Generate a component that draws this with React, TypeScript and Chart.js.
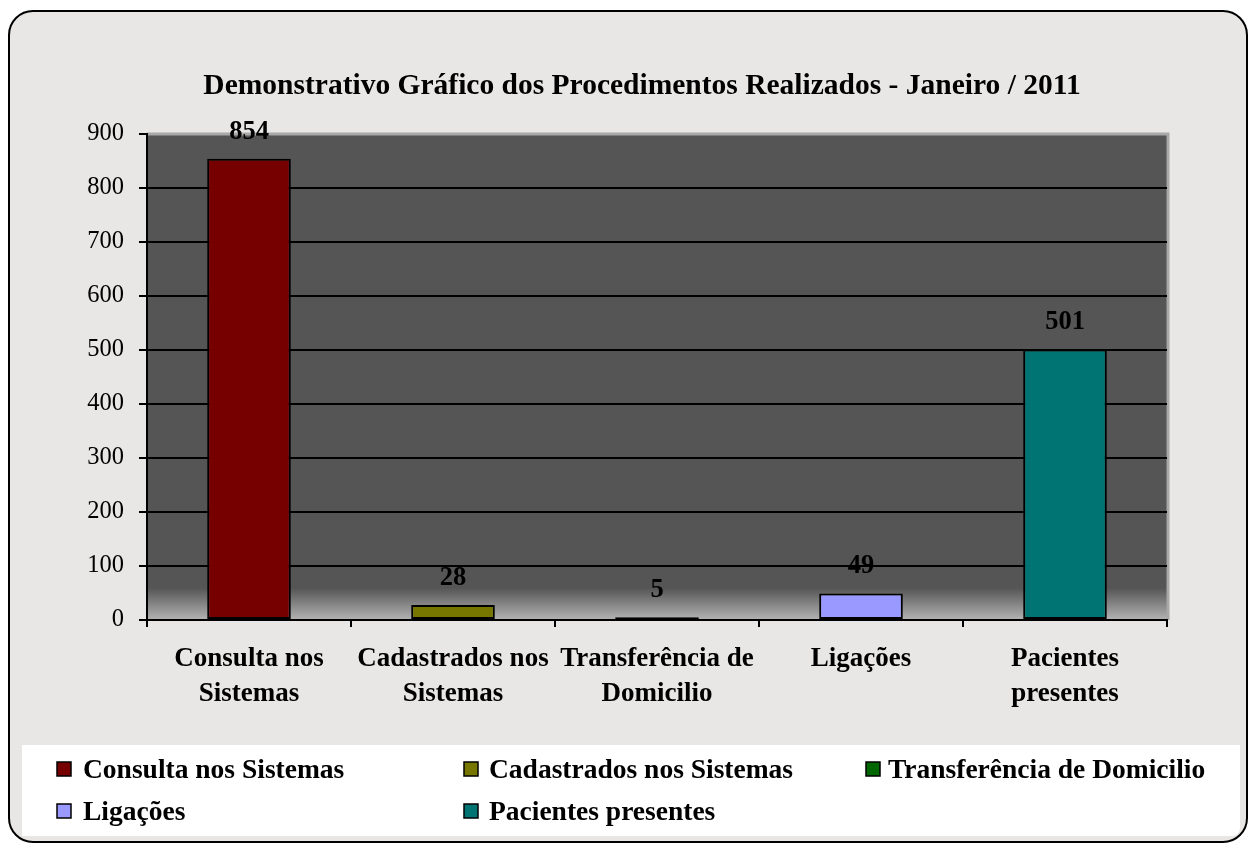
import React, { useEffect, useRef } from "react";
import { Chart, registerables } from "chart.js";

Chart.register(...registerables);

const chartTitle = "Demonstrativo Gráfico dos Procedimentos Realizados - Janeiro / 2011";
const categories: string[][] = [
  ["Consulta nos", "Sistemas"],
  ["Cadastrados nos", "Sistemas"],
  ["Transferência de", "Domicilio"],
  ["Ligações"],
  ["Pacientes", "presentes"],
];
const legendLabels = [
  "Consulta nos Sistemas",
  "Cadastrados nos Sistemas",
  "Transferência de Domicilio",
  "Ligações",
  "Pacientes presentes",
];
const values = [854, 28, 5, 49, 501];
const barColors = ["#760000", "#777700", "#006600", "#9999ff", "#007373"];
const yMin = 0;
const yMax = 900;
const yStep = 100;

const FONT = "'Liberation Serif', 'Times New Roman', serif";

const decorPlugin = {
  id: "decor",
  beforeDraw(chart: any) {
    const ctx = chart.ctx as CanvasRenderingContext2D;
    const W = chart.width;
    const H = chart.height;
    ctx.save();
    ctx.fillStyle = "#ffffff";
    ctx.fillRect(0, 0, W, H);
    // outer rounded panel
    const x0 = 9, y0 = 11, x1 = W - 2, y1 = H - 1, r = 24;
    ctx.beginPath();
    ctx.moveTo(x0 + r, y0);
    ctx.lineTo(x1 - r, y0);
    ctx.arcTo(x1, y0, x1, y0 + r, r);
    ctx.lineTo(x1, y1 - r);
    ctx.arcTo(x1, y1, x1 - r, y1, r);
    ctx.lineTo(x0 + r, y1);
    ctx.arcTo(x0, y1, x0, y1 - r, r);
    ctx.lineTo(x0, y0 + r);
    ctx.arcTo(x0, y0, x0 + r, y0, r);
    ctx.closePath();
    ctx.fillStyle = "#e8e7e6";
    ctx.fill();
    ctx.lineWidth = 2;
    ctx.strokeStyle = "#000";
    ctx.stroke();
    // legend white box
    ctx.fillStyle = "#ffffff";
    ctx.beginPath();
    const lx0 = 22, ly0 = 745, lx1 = 1240, ly1 = 836, lr = 8;
    ctx.moveTo(lx0, ly0);
    ctx.lineTo(lx1, ly0);
    ctx.lineTo(lx1, ly1 - lr);
    ctx.arcTo(lx1, ly1, lx1 - lr, ly1, lr);
    ctx.lineTo(lx0, ly1);
    ctx.closePath();
    ctx.fill();
    // plot area
    const a = chart.chartArea;
    const g = ctx.createLinearGradient(0, a.top, 0, a.bottom);
    const h = a.bottom - a.top;
    g.addColorStop(0, "#555555");
    g.addColorStop(Math.max(0, (h - 32) / h), "#555555");
    g.addColorStop(1, "#b4b4b4");
    ctx.fillStyle = g;
    ctx.fillRect(a.left, a.top, a.right - a.left, h);
    ctx.strokeStyle = "#a8a8a8";
    ctx.lineWidth = 3;
    ctx.beginPath();
    ctx.moveTo(a.left, a.top);
    ctx.lineTo(a.right + 1, a.top);
    ctx.lineTo(a.right + 1, a.bottom);
    ctx.stroke();
    // title
    ctx.font = `bold 29.5px ${FONT}`;
    ctx.fillStyle = "#000";
    ctx.textAlign = "center";
    ctx.textBaseline = "middle";
    ctx.fillText(chartTitle, 642, 86);
    ctx.restore();
  },
  afterDatasetsDraw(chart: any) {
    const ctx = chart.ctx as CanvasRenderingContext2D;
    const meta = chart.getDatasetMeta(0);
    ctx.save();
    ctx.font = `bold 26.5px ${FONT}`;
    ctx.fillStyle = "#000";
    ctx.textAlign = "center";
    ctx.textBaseline = "middle";
    meta.data.forEach((el: any, i: number) => {
      ctx.fillText(String(values[i]), el.x, el.y - 27);
    });
    ctx.restore();
  },
  afterDraw(chart: any) {
    const ctx = chart.ctx as CanvasRenderingContext2D;
    const sqX = [57, 464, 866];
    const txX = [83, 489, 888];
    const rowBase = [778, 820];
    ctx.save();
    ctx.font = `bold 27.5px ${FONT}`;
    ctx.textAlign = "left";
    ctx.textBaseline = "alphabetic";
    legendLabels.forEach((lab, i) => {
      const col = i % 3;
      const row = Math.floor(i / 3);
      const base = rowBase[row];
      ctx.fillStyle = barColors[i];
      ctx.fillRect(sqX[col], base - 16, 14, 14);
      ctx.strokeStyle = "#000";
      ctx.lineWidth = 1.5;
      ctx.strokeRect(sqX[col], base - 16, 14, 14);
      ctx.fillStyle = "#000";
      ctx.fillText(lab, txX[col], base);
    });
    ctx.restore();
  },
};

export default function App() {
  const ref = useRef<HTMLCanvasElement | null>(null);
  useEffect(() => {
    if (!ref.current) return;
    const chart = new Chart(ref.current, {
      type: "bar",
      data: {
        labels: categories,
        datasets: [
          {
            data: values,
            backgroundColor: barColors,
            borderColor: "#000",
            borderWidth: 2,
            borderSkipped: false,
            categoryPercentage: 1,
            barPercentage: 0.41,
          },
        ],
      },
      options: {
        responsive: false,
        devicePixelRatio: 1,
        animation: false,
        layout: { padding: { left: 0, right: 82, top: 134, bottom: 0 } },
        plugins: {
          legend: { display: false },
          tooltip: { enabled: false },
          title: { display: false },
        },
        scales: {
          x: {
            offset: true,
            grid: {
              display: true,
              offset: true,
              drawOnChartArea: false,
              drawTicks: true,
              tickLength: 7,
              color: "#000",
              lineWidth: 2,
            },
            border: { display: true, color: "#000", width: 2 },
            ticks: {
              color: "#000",
              font: { family: FONT, size: 27, weight: "bold", lineHeight: "35px" },
              padding: 15,
              maxRotation: 0,
              autoSkip: false,
            },
            afterFit(scale: any) {
              scale.height = 223;
            },
          },
          y: {
            min: yMin,
            max: yMax,
            grid: {
              drawTicks: true,
              tickLength: 8,
              lineWidth: 2,
              color: (c: any) => (c.tick && c.tick.value === yMax ? "rgba(0,0,0,0)" : "#000"),
              tickColor: "#000",
            },
            border: { display: true, color: "#000", width: 2 },
            ticks: {
              stepSize: yStep,
              color: "#000",
              font: { family: FONT, size: 24.5 },
              padding: 15,
            },
            afterFit(scale: any) {
              scale.width = 147;
            },
          },
        },
      },
      plugins: [decorPlugin],
    });
    return () => chart.destroy();
  }, []);
  return (
    <div style={{ position: "fixed", left: 0, top: 0, width: 1249, height: 843 }}>
      <canvas ref={ref} width={1249} height={843} style={{ display: "block" }} />
    </div>
  );
}
